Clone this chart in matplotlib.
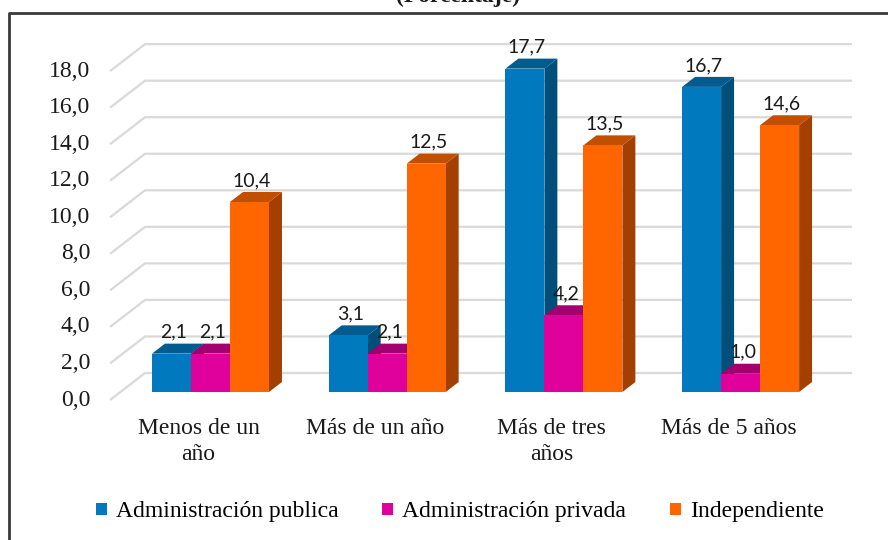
import numpy as np
import matplotlib
matplotlib.use('Agg')
import matplotlib.pyplot as plt
from matplotlib.patches import Polygon, Patch
from matplotlib.lines import Line2D

categories = ['Menos de un\naño', 'Más de un año', 'Más de tres\naños', 'Más de 5 años']
publica = [2.1, 3.1, 17.7, 16.7]
privada = [2.1, 2.1, 4.2, 1.0]
independiente = [10.4, 12.5, 13.5, 14.6]
series_names = ['Administración publica', 'Administración privada', 'Independiente']
y_ticks = [0, 2, 4, 6, 8, 10, 12, 14, 16, 18]

# front, top, side colours
colors = [('#0079BE', '#005B8F', '#004E7A'),
          ('#E0009B', '#A3006F', '#9A0069'),
          ('#FF6600', '#C24E00', '#A34000')]

serif = 'Liberation Serif'
W, H = 888, 540

# pixel scale of the drawing (category 0 centre, value 0 at bar front)
X0, XS = 210.5, 176.7
Y0, YS = 148.0, 18.27

fig = plt.figure(figsize=(W / 100, H / 100), dpi=100)
ax = fig.add_axes([0, 0, 1, 1])
ax.set_xlim(-X0 / XS, (W - X0) / XS)
ax.set_ylim(-Y0 / YS, (H - Y0) / YS)
ax.axis('off')

# depth vector for the 3d look, in data units
DX, DY = 35 / XS, 27 / YS
d_front, d_back, d_bar = -8 / 27, 19 / 27, 10 / 27
x_left = (120.4 - X0) / XS
x_right = (852 - X0) / XS

def px(v):
    return v / XS

# gridlines: diagonal on the floor side + back wall
for v in y_ticks:
    xs = [x_left + d_front * DX, x_left + d_back * DX, x_right]
    ys = [v + d_front * DY, v + d_back * DY, v + d_back * DY]
    ax.plot(xs, ys, color='#D9D9D9', lw=1.6, zorder=1, solid_capstyle='butt')
    ax.text(px(90 - X0), v + d_front * DY, ('%.1f' % v).replace('.', ','),
            ha='right', va='center', family=serif, fontsize=17, color='#1a1a1a')

w = 39 / XS
data = [publica, privada, independiente]
x = np.arange(len(categories))
for k, vals in enumerate(data):
    front, top, side = colors[k]
    xc = x + (k - 1) * w
    ax.bar(xc, vals, width=w, color=front, zorder=3 + 2 * k, linewidth=0)
    for xi, h in zip(xc, vals):
        x1, x2 = xi - w / 2, xi + w / 2
        ddx, ddy = d_bar * DX, d_bar * DY
        ax.add_patch(Polygon([(x2, 0), (x2 + ddx, ddy), (x2 + ddx, h + ddy), (x2, h)],
                             closed=True, facecolor=side, lw=0, zorder=2 + 2 * k))
        ax.add_patch(Polygon([(x1, h), (x2, h), (x2 + ddx, h + ddy), (x1 + ddx, h + ddy)],
                             closed=True, facecolor=top, lw=0, zorder=2 + 2 * k))
        ax.text(xi + px(2), h + ddy + 3 / YS, ('%.1f' % h).replace('.', ','),
                ha='center', va='bottom', family='Lato', fontsize=14,
                color='#1a1a1a', zorder=10)

for i, c in enumerate(categories):
    ax.text(i - px(12), (540 - 418 - Y0) / YS, c, ha='center', va='top',
            family=serif, fontsize=17, linespacing=1.3, color='#1a1a1a')

handles = [Patch(facecolor=colors[k][0], edgecolor='none') for k in range(3)]
fig.legend(handles, series_names, loc='center', bbox_to_anchor=(460 / W, 1 - 512 / H),
           ncol=3, frameon=False, prop={'family': serif, 'size': 17},
           handlelength=0.45, handleheight=0.45, handletextpad=0.4, columnspacing=1.85)

# title only partly visible at the top edge, as in the source
fig.text(458 / W, 1 - 2 / H, '(Porcentaje)', ha='center', va='baseline',
         family=serif, fontsize=17, fontweight='bold', color='#1a1a1a')

fig.add_artist(Line2D([9 / W, 9 / W, 1], [0, 1 - 13 / H, 1 - 13 / H],
                      transform=fig.transFigure, color='#3a3a3a', lw=2))

fig.savefig('out.png', dpi=100)
